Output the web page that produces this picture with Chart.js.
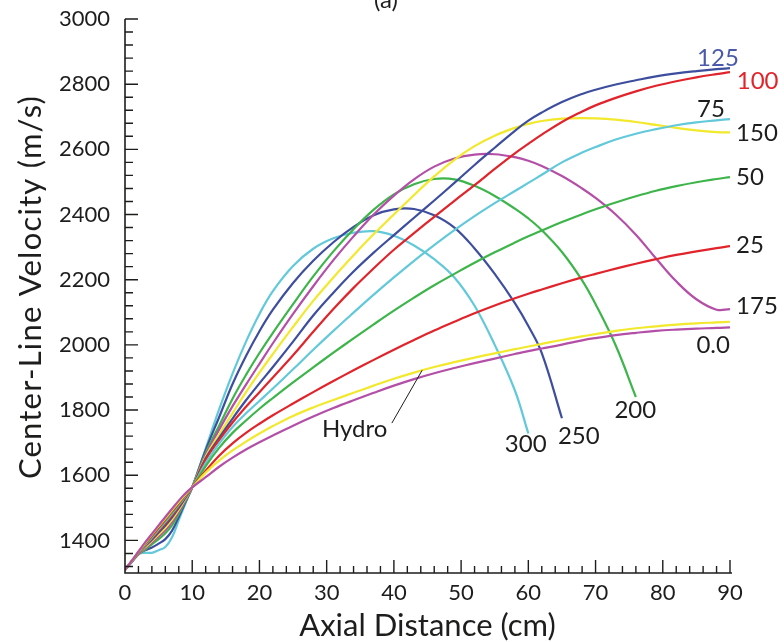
<!DOCTYPE html>
<html>
<head>
<meta charset="utf-8">
<script src="https://cdn.jsdelivr.net/npm/chart.js@4.4.1/dist/chart.umd.min.js"></script>
<style>
  html, body { margin: 0; padding: 0; background: #fff; }
  #wrap { width: 784px; height: 642px; }
</style>
</head>
<body>
<div id="wrap"><canvas id="c" width="784" height="642"></canvas></div>
<script>
// Axial stations (cm) shared by every curve
const axialCm = [0, 1, 2, 3, 4, 5, 6, 7, 8, 9, 10, 12, 14, 16, 18, 20, 22, 25, 28, 31, 34, 37, 40, 43, 46, 49,
  52, 55, 58, 60, 62, 65, 68, 70, 73, 76, 79, 82, 85, 88, 90];

// Center-line velocity (m/s) for each case
const vZero = [1310, 1337, 1366, 1394, 1420, 1446, 1472, 1497, 1522, 1545, 1563,
  1594, 1626, 1654, 1679, 1701, 1722, 1752, 1780, 1806, 1830, 1853, 1875, 1895, 1913, 1929,
  1944, 1958, 1972, 1981, 1989, 2001, 2014, 2021, 2030, 2037, 2043, 2047, 2050, 2052, 2054];
const vHydro = [1310, 1337, 1365, 1392, 1418, 1443, 1468, 1493, 1518, 1542, 1563,
  1608, 1645, 1676, 1703, 1728, 1751, 1782, 1808, 1831, 1853, 1875, 1896, 1915, 1932, 1947,
  1961, 1974, 1987, 1995, 2003, 2015, 2026, 2033, 2043, 2051, 2057, 2062, 2066, 2069, 2071];
const v25 = [1310, 1337, 1364, 1390, 1415, 1440, 1465, 1490, 1515, 1540, 1563,
  1614, 1660, 1698, 1730, 1758, 1784, 1820, 1855, 1889, 1922, 1954, 1985, 2015, 2044, 2071,
  2097, 2121, 2143, 2157, 2170, 2189, 2207, 2218, 2234, 2249, 2263, 2276, 2287, 2297, 2303];
const v50 = [1310, 1336, 1363, 1388, 1412, 1437, 1461, 1486, 1512, 1538, 1563,
  1628, 1684, 1730, 1768, 1804, 1837, 1885, 1931, 1976, 2020, 2063, 2105, 2145, 2183, 2218,
  2252, 2284, 2314, 2333, 2351, 2377, 2401, 2416, 2437, 2456, 2473, 2487, 2499, 2509, 2515];
const v75 = [1310, 1336, 1362, 1386, 1409, 1433, 1457, 1482, 1509, 1536, 1563,
  1637, 1697, 1748, 1790, 1828, 1866, 1925, 1985, 2043, 2099, 2154, 2207, 2258, 2306, 2352,
  2395, 2435, 2472, 2497, 2522, 2560, 2590, 2607, 2630, 2648, 2662, 2674, 2683, 2689, 2693];
const v100 = [1310, 1336, 1361, 1384, 1406, 1429, 1452, 1477, 1505, 1534, 1563,
  1648, 1708, 1762, 1810, 1855, 1900, 1968, 2040, 2110, 2175, 2235, 2292, 2343, 2393, 2442,
  2490, 2540, 2588, 2617, 2645, 2684, 2716, 2735, 2758, 2778, 2795, 2809, 2821, 2831, 2837];
const v125 = [1310, 1335, 1360, 1382, 1402, 1424, 1446, 1471, 1500, 1531, 1563,
  1652, 1715, 1774, 1830, 1882, 1932, 2010, 2090, 2160, 2225, 2283, 2337, 2390, 2443, 2497,
  2552, 2605, 2657, 2688, 2713, 2745, 2770, 2783, 2799, 2812, 2824, 2833, 2840, 2846, 2849];
const v150 = [1310, 1335, 1359, 1379, 1398, 1418, 1439, 1464, 1494, 1528, 1563,
  1657, 1725, 1790, 1855, 1915, 1972, 2055, 2135, 2207, 2275, 2340, 2400, 2460, 2517, 2568,
  2610, 2642, 2666, 2678, 2687, 2694, 2696, 2695, 2691, 2684, 2675, 2666, 2658, 2653, 2652];
const v175 = [1310, 1335, 1358, 1376, 1394, 1412, 1431, 1456, 1488, 1525, 1563,
  1662, 1740, 1812, 1878, 1942, 2005, 2095, 2180, 2260, 2333, 2400, 2458, 2508, 2547, 2572,
  2584, 2585, 2576, 2565, 2549, 2518, 2480, 2451, 2400, 2338, 2265, 2195, 2140, 2108, 2110];
const v200 = [1310, 1334, 1357, 1372, 1388, 1404, 1422, 1446, 1481, 1522, 1563,
  1668, 1752, 1835, 1908, 1975, 2037, 2125, 2210, 2287, 2355, 2415, 2462, 2493, 2509, 2508,
  2488, 2457, 2418, 2388, 2352, 2285, 2198, 2125, 1998, 1840];
const v250 = [1310, 1334, 1358, 1370, 1378, 1390, 1404, 1430, 1472, 1518, 1563,
  1677, 1778, 1880, 1966, 2042, 2108, 2190, 2258, 2315, 2362, 2398, 2416, 2417, 2398, 2360,
  2296, 2218, 2128, 2058, 1975, 1775];
const v300 = [1310, 1334, 1358, 1362, 1362, 1370, 1380, 1410, 1462, 1514, 1563,
  1682, 1802, 1912, 2010, 2095, 2165, 2242, 2295, 2327, 2344, 2349, 2335, 2305, 2263, 2207,
  2120, 2000, 1860, 1728];

// Axis ticks
const xTickValues = [0, 10, 20, 30, 40, 50, 60, 70, 80, 90];
const yTickValues = [1400, 1600, 1800, 2000, 2200, 2400, 2600, 2800, 3000];

const C = {
  cyan: '#62C9DA', blue: '#3E4E9F', green: '#3DB54A',
  magenta: '#B44FA7', yellow: '#F2E82C', red: '#E1242B', ink: '#1d1d1b'
};

const series = [
  { name: '0.0', v: vZero, color: C.magenta },
  { name: 'Hydro', v: vHydro, color: C.yellow },
  { name: '25', v: v25, color: C.red },
  { name: '50', v: v50, color: C.green },
  { name: '75', v: v75, color: C.cyan },
  { name: '100', v: v100, color: C.red },
  { name: '125', v: v125, color: C.blue },
  { name: '150', v: v150, color: C.yellow },
  { name: '175', v: v175, color: C.magenta },
  { name: '200', v: v200, color: C.green },
  { name: '250', v: v250, color: C.blue },
  { name: '300', v: v300, color: C.cyan }
];

// Curve labels, anchored in data units (left edge, baseline)
const curveLabels = [
  { text: '125', x: 85.1, v: 2856, color: '#4A5AAA' },
  { text: '100', x: 91.0, v: 2785, color: C.red },
  { text: '75', x: 85.1, v: 2700, color: C.ink },
  { text: '150', x: 90.9, v: 2626, color: C.ink },
  { text: '50', x: 90.9, v: 2491, color: C.ink },
  { text: '25', x: 90.9, v: 2282, color: C.ink },
  { text: '175', x: 90.9, v: 2095, color: C.ink },
  { text: '0.0', x: 85.0, v: 1975, color: C.ink },
  { text: '200', x: 72.8, v: 1775, color: C.ink },
  { text: '250', x: 64.4, v: 1695, color: C.ink },
  { text: '300', x: 56.5, v: 1671, color: C.ink },
  { text: 'Hydro', x: 29.3, v: 1717, color: C.ink }
];
const hydroLeader = { from: [39.7, 1760], to: [44.2, 1922] };

const FONT = 'Lato, "Open Sans", sans-serif';

const overlay = {
  id: 'overlay',
  afterDraw(chart) {
    const { ctx, chartArea: a, scales: { x, y } } = chart;
    ctx.save();
    ctx.strokeStyle = C.ink;
    ctx.lineCap = 'butt';

    // axis lines
    ctx.lineWidth = 1.6;
    ctx.beginPath();
    ctx.moveTo(a.left, y.getPixelForValue(3000));
    ctx.lineTo(a.left, a.bottom);
    ctx.lineTo(x.getPixelForValue(90) + 2, a.bottom);
    ctx.stroke();

    // inward tick marks
    ctx.lineWidth = 1.4;
    ctx.beginPath();
    for (let v = 1320; v <= 3000; v += 40) {
      const py = y.getPixelForValue(v);
      const len = v % 200 === 0 ? 13 : 8;
      ctx.moveTo(a.left, py); ctx.lineTo(a.left + len, py);
    }
    for (let d = 2; d <= 90; d += 2) {
      const px = x.getPixelForValue(d);
      const len = d % 10 === 0 ? 13 : 7;
      ctx.moveTo(px, a.bottom); ctx.lineTo(px, a.bottom - len);
    }
    ctx.stroke();

    // curve labels
    ctx.font = '24px ' + FONT;
    ctx.textAlign = 'left';
    ctx.textBaseline = 'alphabetic';
    curveLabels.forEach(l => {
      ctx.fillStyle = l.color;
      ctx.fillText(l.text, x.getPixelForValue(l.x), y.getPixelForValue(l.v));
    });

    // leader from "Hydro" to its curve
    ctx.lineWidth = 1;
    ctx.beginPath();
    ctx.moveTo(x.getPixelForValue(hydroLeader.from[0]), y.getPixelForValue(hydroLeader.from[1]));
    ctx.lineTo(x.getPixelForValue(hydroLeader.to[0]), y.getPixelForValue(hydroLeader.to[1]));
    ctx.stroke();

    // panel tag
    ctx.fillStyle = C.ink;
    ctx.font = '24px ' + FONT;
    ctx.textAlign = 'center';
    ctx.fillText('(a)', 386, 8);

    // axis titles
    ctx.font = '31px ' + FONT;
    ctx.fillText('Axial Distance (cm)', (a.left + a.right) / 2, 636);
    ctx.translate(41, 287);
    ctx.rotate(-Math.PI / 2);
    ctx.letterSpacing = '1.2px';
    ctx.fillText('Center-Line Velocity (m/s)', 0, 0);
    ctx.restore();
  }
};

new Chart(document.getElementById('c'), {
  type: 'line',
  data: {
    datasets: series.map(s => ({
      label: s.name,
      data: s.v.map((v, i) => ({ x: axialCm[i], y: v })),
      borderColor: s.color,
      borderWidth: 2.2,
      pointRadius: 0,
      fill: false,
      tension: 0.4
    }))
  },
  options: {
    responsive: false,
    animation: false,
    events: [],
    layout: { padding: { top: 19, right: 54, left: 0, bottom: 0 } },
    plugins: { legend: { display: false }, tooltip: { enabled: false }, title: { display: false } },
    scales: {
      x: {
        type: 'linear', min: 0, max: 90,
        afterBuildTicks: s => { s.ticks = xTickValues.map(v => ({ value: v })); },
        afterFit: s => { s.height = 69; s.paddingLeft = 0; s.paddingRight = 0; },
        grid: { display: false, drawTicks: false },
        border: { display: false },
        ticks: { color: C.ink, font: { family: FONT, size: 22 }, padding: 7, maxRotation: 0, autoSkip: false,
          callback: v => String(v) }
      },
      y: {
        type: 'linear', min: 1300, max: 3000,
        afterBuildTicks: s => { s.ticks = yTickValues.map(v => ({ value: v })); },
        afterFit: s => { s.width = 125; s.paddingTop = 0; s.paddingBottom = 0; },
        grid: { display: false, drawTicks: false },
        border: { display: false },
        ticks: { color: C.ink, font: { family: FONT, size: 22 }, padding: 15, autoSkip: false,
          callback: v => String(v) }
      }
    }
  },
  plugins: [overlay]
});
</script>
</body>
</html>
